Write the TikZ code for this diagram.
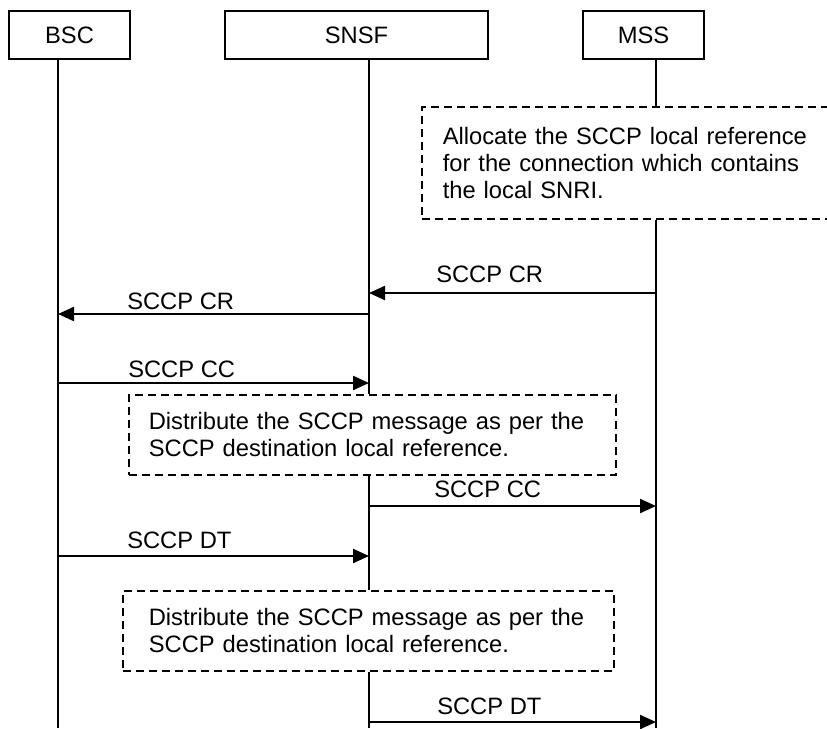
\documentclass[tikz,border=0pt]{standalone}
\usepackage{fontspec}
\setmainfont{Liberation Sans}
\usetikzlibrary{arrows.meta}

\begin{document}
\begin{tikzpicture}[> = {Triangle[length=12pt,width=10.5pt]}, % arrow head style
	x=0.75pt, y=-0.75pt, % pixel grid, y grows down
	every node/.style={font=\fontsize{17.8}{20.25}\selectfont, inner sep=0pt},
	entity/.style={draw, line width=1.2pt, minimum height=36pt},
	life/.style={line width=1.2pt},
	msg/.style={->, line width=1.7pt},
	note/.style={draw, dash pattern=on 6pt off 3.75pt, line width=1.2pt,
		anchor=north west, align=left, minimum height=60pt}]

	\useasboundingbox (0,0) rectangle (827,728);

	% entities
	\node[entity, minimum width=90.75pt]  (bsc)  at (69.5,35)  {BSC};
	\node[entity, minimum width=197.25pt] (snsf) at (356.5,35) {SNSF};
	\node[entity, minimum width=90.75pt]  (mss)  at (643.5,35) {MSS};

	% notes
	\node[note, minimum height=84pt, inner xsep=15.75pt, text width=279pt] (note1) at (421,106)
		{Allocate the SCCP local reference\\for the connection which contains\\the local SNRI.};
	\node[note, inner xsep=15pt, text width=335.25pt] (note2) at (128,394)
		{Distribute the SCCP message as per the\\SCCP destination local reference.};
	\node[note, inner xsep=19.5pt, text width=329.25pt] (note3) at (122,590)
		{Distribute the SCCP message as per the\\SCCP destination local reference.};

	% lifelines
	\coordinate (bscL)  at (58,728);
	\coordinate (snsfL) at (369,728);
	\coordinate (mssL)  at (656,728);
	\draw[life] (bscL |- bsc.south) -- (bscL);
	\draw[life] (snsfL |- snsf.south) -- (snsfL |- note2.north);
	\draw[life] (snsfL |- note2.south) -- (snsfL |- note3.north);
	\draw[life] (snsfL |- note3.south) -- (snsfL);
	\draw[life] (mssL |- mss.south) -- (mssL |- note1.north);
	\draw[life] (mssL |- note1.south) -- (mssL);

	% messages
	\coordinate (m1) at (0,293);
	\coordinate (m2) at (0,314);
	\coordinate (m3) at (0,383);
	\coordinate (m4) at (0,506);
	\coordinate (m5) at (0,556);
	\coordinate (m6) at (0,722);

	\draw[msg] (mssL |- m1) -- (snsfL |- m1);
	\draw[msg] (snsfL |- m2) -- (bscL |- m2);
	\draw[msg] (bscL |- m3) -- (snsfL |- m3);
	\draw[msg] (snsfL |- m4) -- (mssL |- m4);
	\draw[msg] (bscL |- m5) -- (snsfL |- m5);
	\draw[msg] (snsfL |- m6) -- (mssL |- m6);

	\node[anchor=base west] (l1) at (436,282) {SCCP CR};
	\node[anchor=base west] (l2) at (127,309) {SCCP CR};
	\node[anchor=base west] (l3) at (128,377) {SCCP CC};
	\node[anchor=base west] (l4) at (434,497) {SCCP CC};
	\node[anchor=base west] (l5) at (127,548) {SCCP DT};
	\node[anchor=base west] (l6) at (437,714) {SCCP DT};

\end{tikzpicture}
\end{document}
